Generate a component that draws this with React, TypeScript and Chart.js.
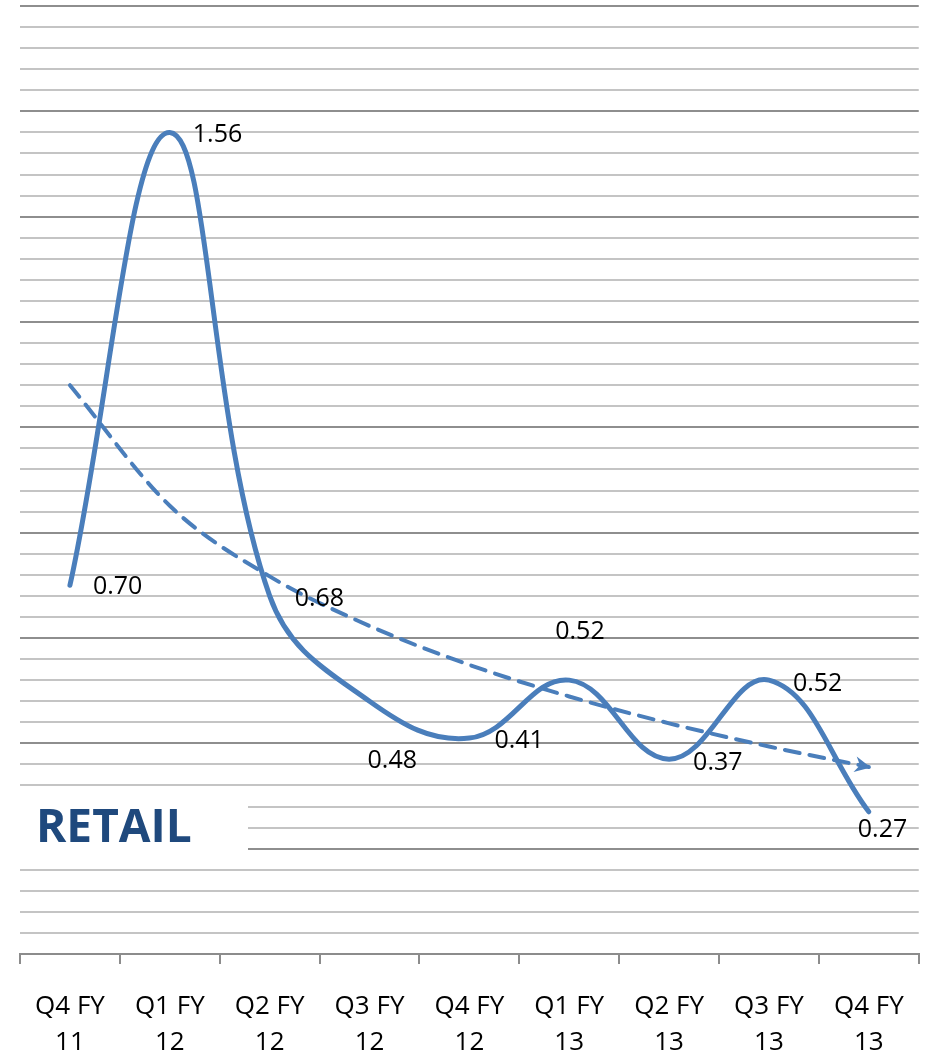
import React, { useEffect, useRef } from "react";
import { Chart, registerables } from "chart.js";

Chart.register(...registerables);

const categories: string[][] = [
  ["Q4 FY", "11"],
  ["Q1 FY", "12"],
  ["Q2 FY", "12"],
  ["Q3 FY", "12"],
  ["Q4 FY", "12"],
  ["Q1 FY", "13"],
  ["Q2 FY", "13"],
  ["Q3 FY", "13"],
  ["Q4 FY", "13"],
];
const retailValues: number[] = [0.7, 1.56, 0.68, 0.48, 0.41, 0.52, 0.37, 0.52, 0.27];
const trendValues: number[] = [1.08, 0.851, 0.717, 0.623, 0.549, 0.489, 0.438, 0.394, 0.355];
const labelTexts: string[] = ["0.70", "1.56", "0.68", "0.48", "0.41", "0.52", "0.37", "0.52", "0.27"];
const yMin = 0;
const yMax = 1.8;
const yStep = 0.04;
const majorStep = 0.2;
const title = "RETAIL";

const LINE_COLOR = "#4A7EBB";
const FONT = "'Open Sans', 'Noto Sans', sans-serif";
const LABEL_OFFSETS: [number, number][] = [
  [23, 2], [23, 2], [25, 3], [-2, 60], [25, 3], [-14, -48], [24, 4], [24, 4], [-11, 18],
];

const overlayPlugin = {
  id: "overlay",
  beforeDatasetsDraw(chart: any) {
    const ctx = chart.ctx;
    const area = chart.chartArea;
    ctx.save();
    ctx.fillStyle = "#ffffff";
    ctx.fillRect(area.left, 793, 248 - area.left, 65);
    ctx.fillStyle = "#1F497D";
    ctx.font = `bold 46px ${FONT}`;
    ctx.textAlign = "left";
    ctx.textBaseline = "middle";
    ctx.fillText(title, 36, 829);
    ctx.restore();
  },
  afterDatasetsDraw(chart: any) {
    const ctx = chart.ctx;
    ctx.save();
    // arrow head on trend line
    const tm = chart.getDatasetMeta(1).data;
    const n = tm.length;
    const p1 = tm[n - 1];
    const p0 = tm[n - 2];
    const ang = Math.atan2(p1.y - p0.y, p1.x - p0.x);
    ctx.translate(p1.x, p1.y);
    ctx.rotate(ang);
    ctx.fillStyle = LINE_COLOR;
    ctx.beginPath();
    ctx.moveTo(2, 0);
    ctx.lineTo(-14, -8);
    ctx.lineTo(-9, 0);
    ctx.lineTo(-14, 8);
    ctx.closePath();
    ctx.fill();
    ctx.restore();

    // data labels
    const meta = chart.getDatasetMeta(0).data;
    ctx.save();
    ctx.fillStyle = "#000000";
    ctx.font = `25px ${FONT}`;
    ctx.textAlign = "left";
    ctx.textBaseline = "middle";
    meta.forEach((pt: any, i: number) => {
      const [dx, dy] = LABEL_OFFSETS[i];
      ctx.fillText(labelTexts[i], pt.x + dx, pt.y + dy);
    });
    ctx.restore();
  },
};

function isMajor(v: number) {
  const r = v / majorStep;
  return Math.abs(r - Math.round(r)) < 1e-6;
}

export default function App() {
  const ref = useRef<HTMLCanvasElement | null>(null);
  useEffect(() => {
    if (!ref.current) return;
    const chart = new Chart(ref.current, {
      type: "line",
      data: {
        labels: categories,
        datasets: [
          {
            data: retailValues,
            borderColor: LINE_COLOR,
            borderWidth: 5,
            tension: 0.4,
            pointRadius: 0,
            borderCapStyle: "round",
            borderJoinStyle: "round",
            fill: false,
          },
          {
            data: trendValues,
            borderColor: LINE_COLOR,
            borderWidth: 4,
            borderDash: [15, 10],
            cubicInterpolationMode: "monotone",
            pointRadius: 0,
            borderCapStyle: "round",
            fill: false,
          },
        ],
      },
      options: {
        animation: false,
        responsive: false,
        maintainAspectRatio: false,
        layout: { padding: { top: 6, right: 5, left: 0, bottom: 0 } },
        plugins: { legend: { display: false }, tooltip: { enabled: false } },
        scales: {
          x: {
            offset: true,
            afterFit: (s: any) => {
              s.height = 101;
            },
            grid: {
              display: true,
              drawOnChartArea: false,
              drawTicks: true,
              tickLength: 10,
              color: "#8c8c8c",
              lineWidth: 2,
              offset: true,
            },
            border: { display: true, color: "#8c8c8c", width: 2 },
            ticks: {
              color: "#000000",
              font: { family: FONT, size: 26, lineHeight: 1.4 },
              padding: 24,
              maxRotation: 0,
              autoSkip: false,
            },
          },
          y: {
            min: yMin,
            max: yMax,
            afterFit: (s: any) => {
              s.width = 20;
            },
            border: { display: false },
            grid: {
              drawTicks: false,
              lineWidth: 2,
              color: (c: any) => (isMajor(c.tick.value) ? "#8e8e8e" : "#c4c4c4"),
            },
            ticks: { display: false, stepSize: yStep },
          },
        },
      },
      plugins: [overlayPlugin],
    } as any);
    return () => chart.destroy();
  }, []);
  return (
    <div style={{ position: "fixed", left: 0, top: 0, width: 928, height: 1055, background: "#fff" }}>
      <canvas ref={ref} width={928} height={1055} style={{ display: "block" }} />
    </div>
  );
}
